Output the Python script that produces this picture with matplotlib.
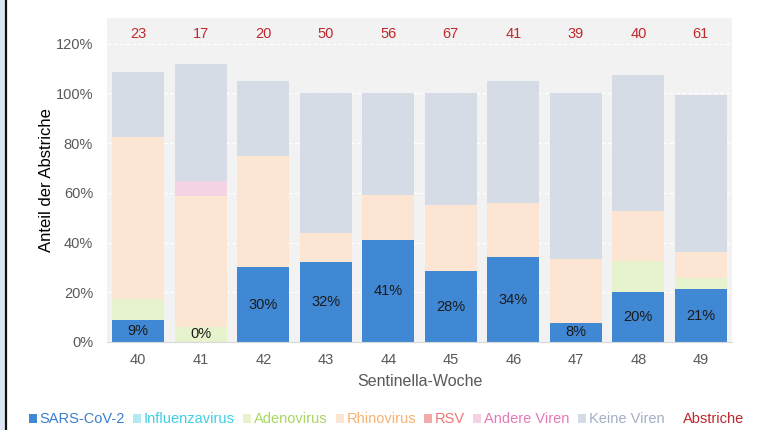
import numpy as np
import matplotlib
matplotlib.use("Agg")
import matplotlib.pyplot as plt
from matplotlib.patches import Rectangle, Patch
from matplotlib.lines import Line2D

plt.rcParams["font.family"] = ["Liberation Sans", "DejaVu Sans"]

weeks = ["40", "41", "42", "43", "44", "45", "46", "47", "48", "49"]
swabs = [23, 17, 20, 50, 56, 67, 41, 39, 40, 61]

# Anteil in % je Woche
sars = [8.7, 0.0, 30.0, 32.0, 41.1, 28.4, 34.1, 7.7, 20.0, 21.3]
influenza = [0, 0, 0, 0, 0, 0, 0, 0, 0, 0]
adeno = [8.7, 5.9, 0, 0, 0, 0, 0, 0, 12.5, 4.5]
rhino = [65.2, 52.9, 45.0, 12.0, 17.9, 26.9, 22.0, 25.6, 20.0, 10.5]
rsv = [0, 0, 0, 0, 0, 0, 0, 0, 0, 0]
andere = [0, 5.9, 0, 0, 0, 0, 0, 0, 0, 0]
keine = [26.1, 47.1, 30.0, 56.0, 41.1, 44.8, 48.8, 66.7, 55.0, 63.2]

series = [
    ("SARS-CoV-2", sars, "#4088d4", "#3a7fcf"),
    ("Influenzavirus", influenza, "#b3eaf2", "#3fcfe4"),
    ("Adenovirus", adeno, "#e6f3cc", "#a8d860"),
    ("Rhinovirus", rhino, "#fce6d3", "#f7b272"),
    ("RSV", rsv, "#f2aaaa", "#f07474"),
    ("Andere Viren", andere, "#f3d3e4", "#e47ab8"),
    ("Keine Viren", keine, "#d5dce6", "#a2afc4"),
]

fig = plt.figure(figsize=(7.78, 4.3), dpi=100)
ax = fig.add_axes([0.1375, 0.2047, 0.8035, 0.7533])
ax.set_facecolor("#f2f2f2")

x = np.arange(len(weeks))
bottom = np.zeros(len(weeks))
for name, vals, col, _ in series:
    vals = np.array(vals, dtype=float)
    ax.bar(x, vals, 0.83, bottom=bottom, color=col, linewidth=0, zorder=2)
    bottom += vals

for xi, v in zip(x, sars):
    ax.text(xi, max(v / 2, 3.3), f"{round(v)}%", ha="center", va="center",
            fontsize=10.5, color="#1a1a1a", zorder=3)

for xi, n in zip(x, swabs):
    ax.text(xi, 123.8, str(n), ha="center", va="center", fontsize=10.5,
            color="#c0282d", zorder=3)

ax.set_xlim(-0.5, len(weeks) - 0.5)
ax.set_ylim(0, 130.3)
ax.set_yticks(np.arange(0, 121, 20))
ax.set_yticklabels([f"{t}%" for t in range(0, 121, 20)])
ax.set_xticks(x)
ax.set_xticklabels(weeks)
ax.grid(axis="y", color="white", linestyle=(0, (3, 2)), linewidth=0.9, zorder=1)
ax.tick_params(axis="both", length=0, labelsize=10.5, labelcolor="#595959")
ax.tick_params(axis="y", pad=10)
ax.tick_params(axis="x", pad=8)
for s in ["top", "right", "left"]:
    ax.spines[s].set_visible(False)
ax.spines["bottom"].set_color("#d9d9d9")
ax.spines["bottom"].set_zorder(4)

ax.set_ylabel("Anteil der Abstriche", fontsize=12, color="black", labelpad=1)
ax.set_xlabel("Sentinella-Woche", fontsize=11.5, color="#595959", labelpad=5)

handles = [Patch(facecolor=c, edgecolor="none") for _, _, c, _ in series]
handles.append(Line2D([], [], linestyle="none"))
names = [s[0] for s in series] + ["Abstriche"]
text_cols = [s[3] for s in series] + ["#c0282d"]
leg = fig.legend(handles, names, loc="lower center", bbox_to_anchor=(0.497, -0.022),
                 ncol=8, frameon=False, fontsize=10.5, handlelength=0.55,
                 handleheight=0.55, handletextpad=0.2, columnspacing=0.55)
for t, c in zip(leg.get_texts(), text_cols):
    t.set_color(c)

# Rahmen links (Screenshot-Kante)
fig.patches.append(Rectangle((0, 0), 5 / 778, 1, transform=fig.transFigure,
                             facecolor="#dce6f2", edgecolor="none"))
fig.lines.append(Line2D([6 / 778, 6 / 778], [0, 1], transform=fig.transFigure,
                        color="#111111", linewidth=1.6))

fig.savefig("out.png", dpi=100)
